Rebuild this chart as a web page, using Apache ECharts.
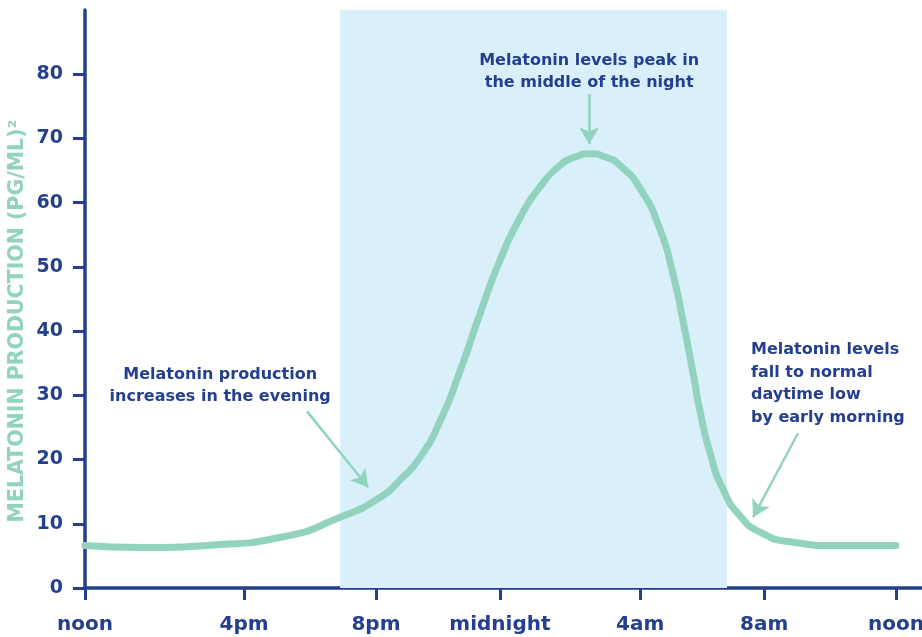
<!DOCTYPE html>
<html lang="en">
<head>
    <meta charset="UTF-8">
    <title>Melatonin</title>
    <script src="https://cdn.jsdelivr.net/npm/echarts@6/dist/echarts.min.js"></script>
    <style>
        html, body { margin: 0; padding: 0; background: #fff; }
    </style>
</head>
<body>
    <div id="main" style="width:922px; height:637px"></div>
    <script type="text/javascript">
        // x in hours from noon, y in pg/ml
        var hours = [0, 1.8, 3.8, 5.8, 7.55, 8.73, 9.32, 9.91, 10.51, 11.1, 11.69, 12.28, 12.87, 13.47, 14.06, 14.5, 14.95,
                     15.4, 15.83, 16.43, 17.02, 17.4, 17.7, 17.99, 18.2, 18.5, 18.88, 19.39, 19.98, 20.86, 22.3, 24];
        var levels = [6.6, 6.3, 6.7, 7.9, 11.0, 14.1, 16.8, 20.3, 26.0, 33.8, 42.7, 51.0, 57.6, 62.5, 65.8, 67.1, 67.6,
                      67.1, 65.8, 62.2, 55.8, 48.9, 41.5, 33.6, 27.6, 21.0, 15.4, 11.2, 8.7, 7.2, 6.6, 6.6];

        var tickPos = [0, 4.71, 8.61, 12.28, 16.43, 20.1, 24];
        var tickNames = ['noon', '4pm', '8pm', 'midnight', '4am', '8am', 'noon'];
        var yTicks = [0, 10, 20, 30, 40, 50, 60, 70, 80];
        var night = [7.55, 19.0];

        var notes = [
            'Melatonin production\nincreases in the evening',
            'Melatonin levels peak in\nthe middle of the night',
            'Melatonin levels\nfall to normal\ndaytime low\nby early morning'
        ];
        var noteAt = [[4.0, 31.5], [14.92, 80.4], [19.71, 31.8]];
        var arrowFrom = [[6.57, 27.5], [14.92, 76.9], [21.1, 24.1]];
        var arrowTo = [[8.38, 15.7], [14.92, 69.1], [19.77, 11.0]];

        var navy = '#243f8d';
        var mint = '#92d3bf';
        var font = 'DejaVu Sans';

        var chart = echarts.init(document.getElementById('main'));

        var pts = hours.map(function (h, i) { return [h, levels[i]]; });

        var notePoints = notes.map(function (t, i) {
            var left = i === 2;
            return {
                coord: noteAt[i],
                symbol: 'circle',
                symbolSize: 0,
                label: {
                    show: true,
                    formatter: t,
                    position: left ? 'right' : 'inside',
                    distance: 0,
                    align: left ? 'left' : 'center',
                    color: navy,
                    fontFamily: font,
                    fontWeight: 'bold',
                    fontSize: 16,
                    lineHeight: 22.5
                }
            };
        });

        var arrows = arrowFrom.map(function (a, i) {
            return [{ coord: a }, { coord: arrowTo[i] }];
        });

        var option = {
            animation: false,
            grid: { left: 85, right: 0, top: 10, bottom: 49, outerBoundsMode: 'none' },
            xAxis: {
                type: 'value',
                min: 0,
                max: 24.77,
                splitLine: { show: false },
                axisLine: { lineStyle: { color: navy, width: 3.5 } },
                axisTick: {
                    customValues: tickPos,
                    length: 12,
                    lineStyle: { color: navy, width: 3 }
                },
                axisLabel: {
                    customValues: tickPos,
                    margin: 27,
                    color: navy,
                    fontFamily: font,
                    fontWeight: 'bold',
                    fontSize: 20,
                    formatter: function (v) {
                        var k = tickPos.indexOf(v);
                        return k >= 0 ? tickNames[k] : '';
                    }
                }
            },
            yAxis: {
                type: 'value',
                min: 0,
                max: 90,
                splitLine: { show: false },
                axisLine: { show: true, lineStyle: { color: navy, width: 3.5 } },
                axisTick: {
                    show: true,
                    customValues: yTicks,
                    length: 12,
                    lineStyle: { color: navy, width: 3 }
                },
                axisLabel: {
                    customValues: yTicks,
                    margin: 22,
                    color: navy,
                    fontFamily: font,
                    fontWeight: 'bold',
                    fontSize: 19
                }
            },
            graphic: [{
                type: 'text',
                x: 18,
                y: 321,
                rotation: Math.PI / 2,
                style: {
                    text: 'MELATONIN PRODUCTION (PG/ML)²',
                    fill: mint,
                    font: 'bold 20.5px ' + font,
                    align: 'center',
                    verticalAlign: 'middle'
                }
            }],
            series: [
                {
                    type: 'line',
                    data: pts,
                    smooth: 0.6,
                    showSymbol: false,
                    silent: true,
                    lineStyle: { color: mint, width: 7, cap: 'round' },
                    markArea: {
                        silent: true,
                        itemStyle: { color: '#d9f0fa' },
                        data: [[{ xAxis: night[0] }, { xAxis: night[1] }]]
                    },
                    markLine: {
                        silent: true,
                        symbol: ['none', 'arrow'],
                        symbolSize: [15, 17],
                        label: { show: false },
                        lineStyle: { color: mint, width: 2.5, type: 'solid' },
                        data: arrows
                    },
                    markPoint: {
                        silent: true,
                        data: notePoints
                    },
                    z: 3
                }
            ]
        };

        chart.setOption(option);
    </script>
</body>
</html>
